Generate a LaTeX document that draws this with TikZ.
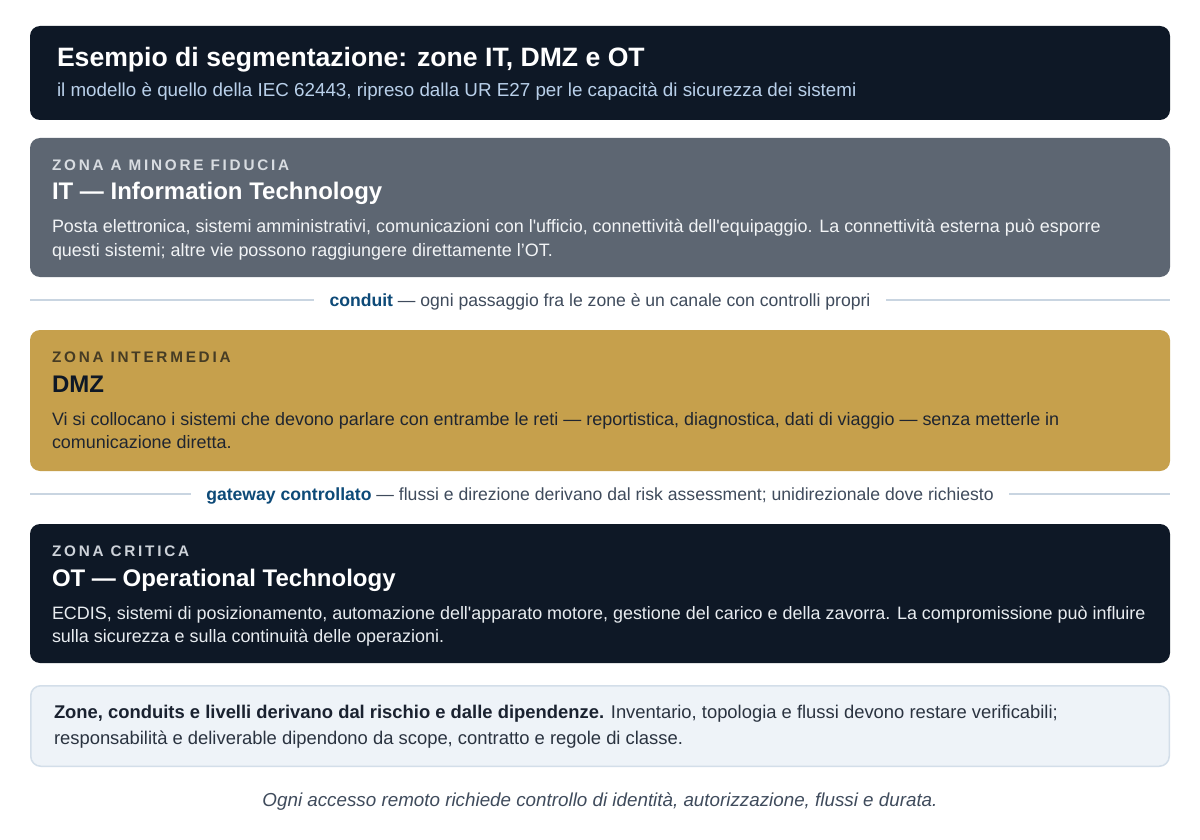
\documentclass[tikz,border=0pt]{standalone}
\usepackage{fontspec}
\setmainfont{Liberation Sans}
\newfontfamily\lblfont[LetterSpace=18]{Liberation Sans}
\definecolor{navy}{HTML}{0E1826}
\definecolor{slate}{HTML}{5D6672}
\definecolor{gold}{HTML}{C6A04C}
\definecolor{subblue}{HTML}{B9D0EA}
\definecolor{itlbl}{HTML}{D8DCE1}
\definecolor{itbody}{HTML}{F2F4F6}
\definecolor{dmzlbl}{HTML}{463C24}
\definecolor{dmzbody}{HTML}{1F2530}
\definecolor{otlbl}{HTML}{CDD2D9}
\definecolor{otbody}{HTML}{E8ECF0}
\definecolor{sepline}{HTML}{C9D5E1}
\definecolor{condblue}{HTML}{0D4A78}
\definecolor{condgray}{HTML}{3F4B5C}
\definecolor{notefill}{HTML}{EEF3F8}
\definecolor{notedraw}{HTML}{D3DEE9}
\definecolor{notebold}{HTML}{1A2230}
\definecolor{notetext}{HTML}{2A3340}
\newcommand{\sq}{\textquotesingle}
\tikzset{
  panel/.style={rounded corners=10pt, draw=none},
  txt/.style={anchor=base west, inner sep=0pt, outer sep=0pt},
  ctxt/.style={anchor=base, inner sep=0pt, outer sep=0pt},
  htitle/.style={txt, font=\fontsize{26.6}{30}\selectfont\bfseries, text=white},
  hsub/.style={txt, font=\fontsize{18.8}{22}\selectfont, text=subblue},
  zlbl/.style={txt, font=\lblfont\fontsize{15.3}{17}\selectfont\bfseries},
  ztitle/.style={txt, font=\fontsize{24}{28}\selectfont\bfseries},
  zbody/.style={txt, font=\fontsize{17.95}{21}\selectfont},
  sep/.style={draw=sepline, line width=1.5pt},
  septxt/.style={ctxt, font=\fontsize{17.6}{20}\selectfont, text=condgray, inner xsep=15.5pt},
}
\begin{document}
\begin{tikzpicture}[x=1pt,y=-1pt]
\useasboundingbox[fill=white] (0,0) rectangle (1200,840);
% header
\fill[panel, navy] (30,26) rectangle (1170,120);
\node[htitle] (ht) at (57,66.5) {Esempio di segmentazione: zone IT, DMZ e OT};
\node[hsub] (hs) at (57,96.5) {il modello è quello della IEC 62443, ripreso dalla UR E27 per le capacità di sicurezza dei sistemi};
% IT
\fill[panel, slate] (30,138) rectangle (1170,277);
\node[zlbl, text=itlbl] (itl) at (52,170.5) {ZONA A MINORE FIDUCIA};
\node[ztitle, text=white] (itt) at (52,200) {IT — Information Technology};
\node[zbody, text=itbody] (itb1) at (52,233) {Posta elettronica, sistemi amministrativi, comunicazioni con l\sq ufficio, connettività dell\sq equipaggio. La connettività esterna può esporre};
\node[zbody, text=itbody] (itb2) at (52,256) {questi sistemi; altre vie possono raggiungere direttamente l’OT.};
% conduit
\node[septxt] (c1) at (600,306) {\textbf{\color{condblue}conduit} — ogni passaggio fra le zone è un canale con controlli propri};
\coordinate (c1l) at (30,300);
\coordinate (c1r) at (1170,300);
\draw[sep] (c1l) -- (c1l -| c1.west);
\draw[sep] (c1.east |- c1r) -- (c1r);
% DMZ
\fill[panel, gold] (30,330) rectangle (1170,471);
\node[zlbl, text=dmzlbl] (dl) at (52,362.5) {ZONA INTERMEDIA};
\node[ztitle, text=navy] (dt) at (52,392) {DMZ};
\node[zbody, text=dmzbody] (db1) at (52,425) {Vi si collocano i sistemi che devono parlare con entrambe le reti — reportistica, diagnostica, dati di viaggio — senza metterle in};
\node[zbody, text=dmzbody] (db2) at (52,448) {comunicazione diretta.};
% gateway
\node[septxt] (c2) at (600,500) {\textbf{\color{condblue}gateway controllato} — flussi e direzione derivano dal risk assessment; unidirezionale dove richiesto};
\coordinate (c2l) at (30,494);
\coordinate (c2r) at (1170,494);
\draw[sep] (c2l) -- (c2l -| c2.west);
\draw[sep] (c2.east |- c2r) -- (c2r);
% OT
\fill[panel, navy] (30,524) rectangle (1170,663);
\node[zlbl, text=otlbl] (ol) at (52,556.5) {ZONA CRITICA};
\node[ztitle, text=white] (ot) at (52,586) {OT — Operational Technology};
\node[zbody, text=otbody] (ob1) at (52,619) {ECDIS, sistemi di posizionamento, automazione dell\sq apparato motore, gestione del carico e della zavorra. La compromissione può influire};
\node[zbody, text=otbody] (ob2) at (52,642) {sulla sicurezza e sulla continuità delle operazioni.};
% note
\draw[rounded corners=10pt, fill=notefill, draw=notedraw, line width=1.5pt] (30.75,685.75) rectangle (1169.25,766.25);
\node[zbody, font=\fontsize{18.4}{21}\selectfont, text=notetext] (n1) at (54,718) {\textbf{\color{notebold}Zone, conduits e livelli derivano dal rischio e dalle dipendenze.} Inventario, topologia e flussi devono restare verificabili;};
\node[zbody, font=\fontsize{18.4}{21}\selectfont, text=notetext] (n2) at (54,744) {responsabilità e deliverable dipendono da scope, contratto e regole di classe.};
% footer
\node[ctxt, font=\fontsize{18.8}{22}\selectfont\itshape, text=condgray] (f) at (600,806) {Ogni accesso remoto richiede controllo di identità, autorizzazione, flussi e durata.};
\end{tikzpicture}
\end{document}
